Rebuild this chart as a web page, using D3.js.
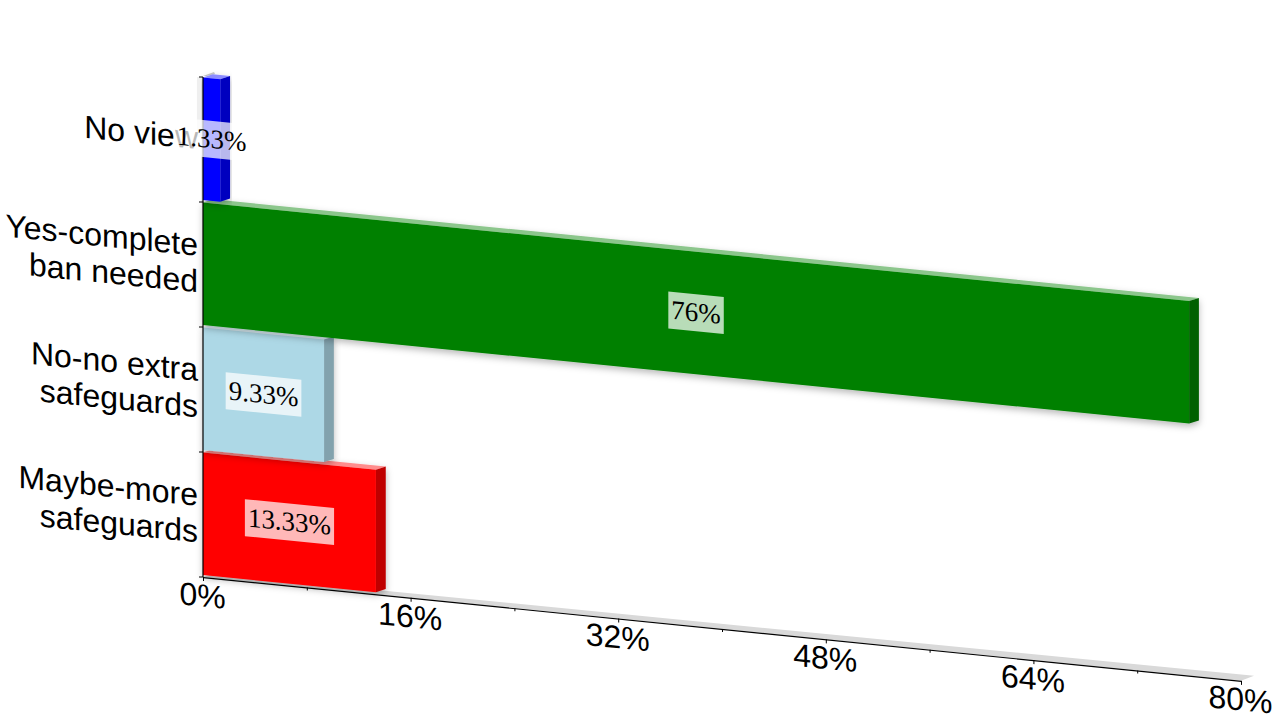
<!DOCTYPE html>
<html><head><meta charset="utf-8">
<script src="https://cdn.jsdelivr.net/npm/d3@7/dist/d3.min.js"></script>
<style>html,body{margin:0;padding:0;background:#fff}svg{display:block}</style>
</head><body><svg id="c" width="1280" height="720"></svg>
<script>
const categories=[["No view"],["Yes-complete","ban needed"],["No-no extra","safeguards"],["Maybe-more","safeguards"]];
const values=[1.33,76,9.33,13.33];
const valueLabels=["1.33%","76%","9.33%","13.33%"];
const barColors=["#0000ff","#008000","#add8e6","#ff0000"];
const majorTicks=[0,16,32,48,64,80];
const minorTicks=[8,24,40,56,72];

const slope=0.1, ox=203, top0=77, bottom0=577, dx=9.8, dy=-3.2;
const svg=d3.select("#c");
const x=d3.scaleLinear().domain([0,80]).range([0,1038]);
const y=d3.scaleBand().domain(d3.range(categories.length)).range([top0,bottom0]);
const px=v=>ox+x(v);
const py=(v,yy)=>yy+slope*x(v);
const poly=p=>p.map(d=>d.join(",")).join(" ");
const skew=(tx,ty)=>`matrix(1,${slope},0,1,${tx},${ty})`;

const defs=svg.append("defs");
const f=defs.append("filter").attr("id","sh").attr("x","-5%").attr("y","-10%").attr("width","110%").attr("height","125%");
f.append("feDropShadow").attr("dx",0).attr("dy",3).attr("stdDeviation",3.5).attr("flood-color","#000").attr("flood-opacity",.28);

// floor and wall edge
svg.append("polygon").attr("fill","#d9d9d9")
 .attr("points",poly([[px(0),py(0,bottom0)],[px(80),py(80,bottom0)],[px(80)+13,py(80,bottom0)-5],[px(0)+10,py(0,bottom0)-3]]));
svg.append("polygon").attr("fill","#c8c8c8")
 .attr("points",poly([[ox,top0-1],[ox+11,top0-5],[ox+12,top0-3],[ox+4,top0-1]]));

// left axis shadow
svg.append("rect").attr("x",ox-6).attr("y",top0).attr("width",6).attr("height",60).attr("fill","#000").attr("opacity",.06).attr("filter","url(#sh)");

// bars, painted from the bottom up
const order=d3.range(values.length).reverse();
const bars=svg.append("g").selectAll("g").data(order).join("g").attr("filter","url(#sh)");
bars.each(function(i){
  const g=d3.select(this), v=values[i], c=barColors[i];
  const t=y(i)+0.5, b=y(i)+y.bandwidth()-2;
  const A=[px(0),py(0,t)],B=[px(v),py(v,t)],C=[px(v),py(v,b)],D=[px(0),py(0,b)];
  const sideC=d3.rgb(c); sideC.r*=.75;sideC.g*=.75;sideC.b*=.75;
  const topC=d3.interpolateRgb(c,"#fff")(.55);
  g.append("polygon").attr("fill",topC).attr("points",poly([A,B,[B[0]+dx,B[1]+dy],[A[0]+dx,A[1]+dy]]));
  g.append("polygon").attr("fill",sideC.formatHex()).attr("points",poly([B,[B[0]+dx,B[1]+dy],[C[0]+dx,C[1]+dy],C]));
  g.append("polygon").attr("fill",c).attr("points",poly([A,B,C,D]));
});

// value axis
const minorG=svg.append("g").attr("transform",skew(ox,bottom0))
 .call(d3.axisBottom(x).tickValues(minorTicks).tickSize(3).tickSizeOuter(0).tickFormat(""));
minorG.select(".domain").remove();
minorG.selectAll("line").attr("stroke","#000");
const xAxis=svg.append("g").attr("transform",skew(ox,bottom0))
 .call(d3.axisBottom(x).tickValues(majorTicks).tickSize(4).tickSizeOuter(0).tickFormat(d=>d+"%"));
xAxis.select(".domain").attr("stroke","#000").attr("stroke-width",1.2);
xAxis.selectAll("text").attr("font-family","'Liberation Sans'").attr("font-size",32).attr("fill","#000").attr("x",-1);

// category axis
svg.append("line").attr("x1",ox).attr("x2",ox).attr("y1",top0).attr("y2",bottom0).attr("stroke","#000").attr("stroke-width",1.2);
svg.append("g").selectAll("line").data(d3.range(categories.length+1)).join("line")
 .attr("x1",ox-4).attr("x2",ox).attr("y1",d=>top0+d*y.step()).attr("y2",d=>top0+d*y.step()).attr("stroke","#000");

// category labels
const lh=36.5;
svg.append("g").selectAll("text").data(categories).join("text")
 .attr("transform",(d,i)=>skew(198,y(i)+y.bandwidth()/2))
 .attr("font-family","'Liberation Sans'").attr("font-size",32).attr("text-anchor","end").attr("fill","#000")
 .each(function(lines){
   d3.select(this).selectAll("tspan").data(lines).join("tspan").attr("x",0)
    .attr("y",(l,k)=>(k-(lines.length-1)/2)*lh+9.5).text(l=>l);
 });

// data labels
const dl=svg.append("g").selectAll("g").data(values).join("g")
 .attr("transform",(v,i)=>skew(px(v/2),py(v/2,y(i)+y.bandwidth()/2-1)));
const rects=dl.append("rect").attr("fill","#fff").attr("fill-opacity",.72).attr("y",-18.5).attr("height",37);
const texts=dl.append("text").attr("font-family","'Liberation Serif'").attr("font-size",27).attr("text-anchor","middle")
 .attr("y",8.5).attr("fill","#000").text((v,i)=>valueLabels[i]);
texts.each(function(v,i){
  const w=this.getComputedTextLength()+6;
  d3.select(rects.nodes()[i]).attr("x",-w/2).attr("width",w);
});
</script></body></html>
